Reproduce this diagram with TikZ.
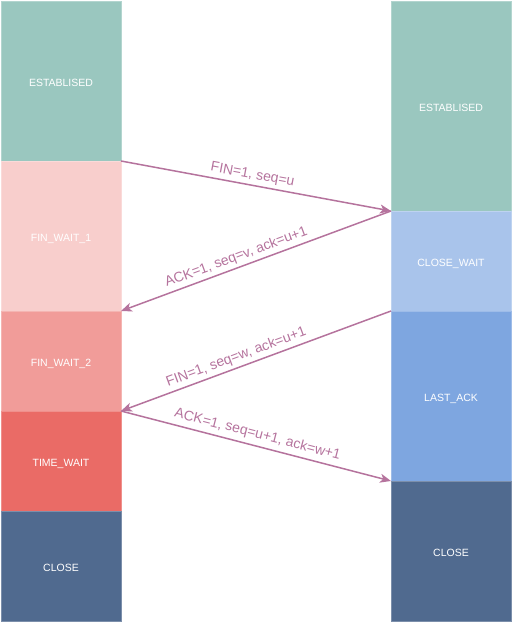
\documentclass[tikz,border=0pt]{standalone}
\usepackage{fontspec}
\setmainfont{Liberation Sans}
\usetikzlibrary{arrows.meta}
\definecolor{cEst}{HTML}{9AC7BF}
\definecolor{cFw1}{HTML}{F8CECC}
\definecolor{cFw2}{HTML}{F19C99}
\definecolor{cTw}{HTML}{EA6B66}
\definecolor{cClose}{HTML}{506A8F}
\definecolor{cCw}{HTML}{A9C4EB}
\definecolor{cLa}{HTML}{7EA6E0}
\definecolor{cArr}{HTML}{B5739D}
\tikzset{
  state/.style={rectangle, anchor=north west, minimum width=120pt, inner sep=0pt, outer sep=0pt,
    text height=11pt, text depth=0pt,
    fill=#1, draw=#1!75!white, line width=0.8pt, text=white, font=\fontsize{10.5}{12}\selectfont},
  msg/.style={draw=cArr, line width=1.5pt, -{Stealth[length=11pt,width=9pt,inset=3pt]}},
  msglabel/.style={sloped, above, text=cArr, font=\fontsize{14}{16}\selectfont, inner sep=2pt}
}
\begin{document}
\begin{tikzpicture}[x=1pt,y=-1pt]
\useasboundingbox (0,0) rectangle (513,623);
% left column
\node[state=cEst, minimum height=160pt] (l0) at (1,1) {ESTABLISED};
\node[state=cFw1, minimum height=150pt] (l1) at (1,161) {FIN\_WAIT\_1};
\node[state=cFw2, minimum height=100pt] (l2) at (1,311) {FIN\_WAIT\_2};
\node[state=cTw, minimum height=100pt] (l3) at (1,411) {TIME\_WAIT};
\node[state=cClose, minimum height=110pt] (l4) at (1,511) {CLOSE};
% right column
\node[state=cEst, minimum height=210pt] (r0) at (391,1) {ESTABLISED};
\node[state=cCw, minimum height=100pt] (r1) at (391,211) {CLOSE\_WAIT};
\node[state=cLa, minimum height=170pt] (r2) at (391,311) {LAST\_ACK};
\node[state=cClose, minimum height=140pt] (r3) at (391,481) {CLOSE};
% messages
\draw[msg] (l0.south east) -- node[msglabel, pos=0.48, yshift=1pt] {FIN=1, seq=u} (r0.south west);
\draw[msg] (r0.south west) -- node[msglabel, pos=0.56, yshift=1pt] {ACK=1, seq=v, ack=u+1} (l1.south east);
\draw[msg] (r1.south west) -- node[msglabel, pos=0.56, yshift=1pt] {FIN=1, seq=w, ack=u+1} (l2.south east);
\draw[msg] (l2.south east) -- node[msglabel, pos=0.495, yshift=2pt] {ACK=1, seq=u+1, ack=w+1} (r2.south west);
\end{tikzpicture}
\end{document}
